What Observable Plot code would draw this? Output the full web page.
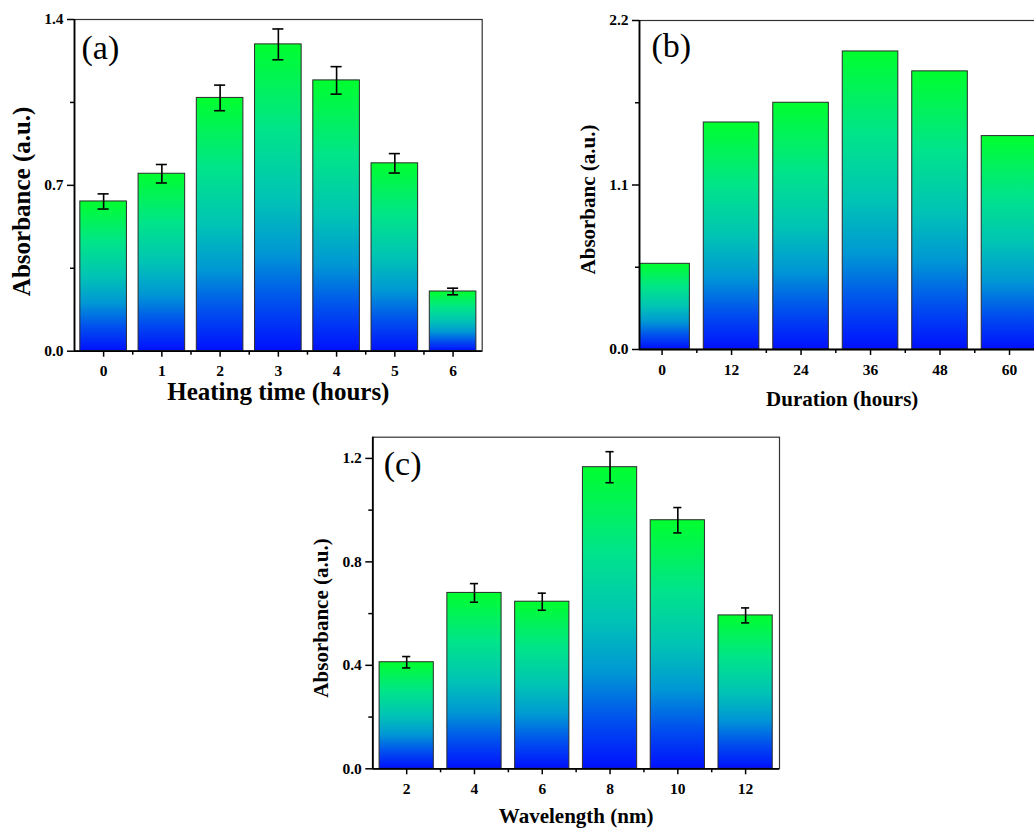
<!DOCTYPE html>
<html><head><meta charset="utf-8">
<script src="https://cdn.jsdelivr.net/npm/d3@7"></script>
<script src="https://cdn.jsdelivr.net/npm/@observablehq/plot@0.6"></script>
<style>
html,body{margin:0;padding:0;background:#fff;width:1034px;height:828px;overflow:hidden;position:relative}
.panel{position:absolute}
.panel svg{overflow:visible;max-width:none !important}
</style></head><body>
<div id="a" class="panel" style="left:0;top:0"></div>
<div id="b" class="panel" style="left:560px;top:0;width:520px"></div>
<div id="c" class="panel" style="left:300px;top:420px"></div>
<script>
// ---- data ----
const heatingTime = [0, 1, 2, 3, 4, 5, 6];
const absorbanceA = [0.632, 0.749, 1.069, 1.295, 1.143, 0.793, 0.252];
const errorA = [0.032, 0.039, 0.054, 0.065, 0.058, 0.041, 0.014];

const duration = [0, 12, 24, 36, 48, 60];
const absorbanceB = [0.573, 1.518, 1.650, 1.993, 1.860, 1.427];

const wavelength = [2, 4, 6, 8, 10, 12];
const absorbanceC = [0.412, 0.680, 0.646, 1.166, 0.961, 0.593];
const errorC = [0.022, 0.036, 0.033, 0.060, 0.049, 0.029];

const yTicksA = [0, 0.7, 1.4], yMinorA = [0.35, 1.05];
const xMinorA = [0.5, 1.5, 2.5, 3.5, 4.5, 5.5];
const yTicksB = [0, 1.1, 2.2], yMinorB = [0.55, 1.65];
const xMinorB = [6, 18, 30, 42, 54, 66];
const yTicksC = [0, 0.4, 0.8, 1.2], yMinorC = [0.2, 0.6, 1.0];
const xMinorC = [3, 5, 7, 9, 11];

const serif = "'Liberation Serif', 'Times New Roman', serif";

function gradient(id) {
  return () => {
    const defs = d3.create("svg:defs");
    const g = defs.append("linearGradient").attr("id", id)
      .attr("x1", 0).attr("y1", 0).attr("x2", 0).attr("y2", 1);
    [[0, "#00ff2e"], [0.28, "#00e48a"], [0.5, "#00c4b4"], [0.68, "#0098d4"], [0.84, "#0050ee"], [1, "#0010ff"]]
      .forEach(([o, c]) => g.append("stop").attr("offset", o).attr("stop-color", c));
    return defs.node();
  };
}

function panel(cfg) {
  const rows = cfg.x.map((x, i) => ({x, y: cfg.y[i], e: cfg.err ? cfg.err[i] : 0}));
  const marks = [
    gradient(cfg.gid),
    Plot.rectY(rows, {x1: d => d.x - cfg.half, x2: d => d.x + cfg.half, y1: 0, y2: "y",
      fill: `url(#${cfg.gid})`, stroke: "#2a2a2a", strokeWidth: 1, clip: true})
  ];
  if (cfg.err) {
    marks.push(
      Plot.ruleX(rows, {x: "x", y1: d => d.y - d.e, y2: d => d.y + d.e, stroke: "#000", strokeWidth: 1.6}),
      Plot.ruleY(rows, {y: d => d.y + d.e, x1: d => d.x - cfg.cap, x2: d => d.x + cfg.cap, stroke: "#000", strokeWidth: 1.6}),
      Plot.ruleY(rows, {y: d => d.y - d.e, x1: d => d.x - cfg.cap, x2: d => d.x + cfg.cap, stroke: "#000", strokeWidth: 1.6})
    );
  }
  marks.push(
    Plot.frame({stroke: "#333", strokeWidth: 1.2}),
    Plot.ruleY([cfg.yDomain[0]], {stroke: "#000", strokeWidth: 1.8}),
    Plot.ruleX([cfg.xDomain[0]], {stroke: "#000", strokeWidth: 1.8}),
    Plot.axisY({ticks: cfg.yTicks, tickSize: 7, tickPadding: 4, tickFormat: d3.format(".1f"),
      strokeWidth: 1.5, fontSize: 15.5, fontWeight: "bold", label: null}),
    Plot.axisY({ticks: cfg.yMinor, tickSize: 4, tickFormat: () => "", strokeWidth: 1.5, label: null}),
    Plot.axisX({ticks: cfg.x, tickSize: 6, tickPadding: 8, tickFormat: d => String(d),
      strokeWidth: 1.5, fontSize: 15.5, fontWeight: "bold", label: null}),
    Plot.axisX({ticks: cfg.xMinor, tickSize: 4, tickFormat: () => "", strokeWidth: 1.5, label: null}),
    Plot.text([cfg.yLabel], {text: d => d, frameAnchor: "left", rotate: -90, dx: cfg.yLabelDx, dy: cfg.yLabelDy,
      fontSize: cfg.yLabelSize, fontWeight: "bold", lineAnchor: "middle", textAnchor: "middle"}),
    Plot.text([cfg.xLabel], {text: d => d, frameAnchor: cfg.xLabelAnchor || "bottom", dx: cfg.xLabelDx || 0, dy: cfg.xLabelDy,
      fontSize: cfg.xLabelSize, fontWeight: "bold", lineAnchor: "middle", textAnchor: "middle"}),
    Plot.text([cfg.tag], {text: d => d, frameAnchor: "top-left", dx: cfg.tagDx, dy: cfg.tagDy,
      fontSize: 34, fontWeight: "normal", lineAnchor: "bottom", textAnchor: "start"})
  );
  const chart = Plot.plot({
    width: cfg.width, height: cfg.height,
    marginLeft: cfg.ml, marginRight: cfg.mr, marginTop: cfg.mt, marginBottom: cfg.mb,
    x: {type: "linear", domain: cfg.xDomain, label: null},
    y: {type: "linear", domain: cfg.yDomain, label: null},
    style: {fontFamily: serif, fontSize: "15px", color: "#000", background: "transparent", overflow: "visible", maxWidth: "none"},
    marks
  });
  document.getElementById(cfg.id).appendChild(chart);
}

panel({id: "a", gid: "gradA", x: heatingTime, y: absorbanceA, err: errorA,
  xDomain: [-0.5, 6.5], yDomain: [0, 1.4], half: 0.4, cap: 0.095,
  yTicks: yTicksA, yMinor: yMinorA, xMinor: xMinorA,
  width: 490, height: 410, ml: 74, mr: 8.3, mt: 19, mb: 59.3,
  yLabel: "Absorbance (a.u.)", yLabelSize: 25, yLabelDx: -52.5, yLabelDy: 16,
  xLabel: "Heating time (hours)", xLabelSize: 25, xLabelDy: 41,
  tag: "(a)", tagDx: 7, tagDy: 39});

panel({id: "b", gid: "gradB", x: duration, y: absorbanceB, err: null,
  xDomain: [-3.9, 70.1], yDomain: [0, 2.2], half: 4.8, cap: 0,
  yTicks: yTicksB, yMinor: yMinorB, xMinor: xMinorB,
  width: 517.5, height: 410, ml: 79, mr: 10, mt: 20, mb: 61,
  yLabel: "Absorbanc (a.u.)", yLabelSize: 21, yLabelDx: -51, yLabelDy: 14.5,
  xLabel: "Duration (hours)", xLabelSize: 21, xLabelAnchor: "bottom-left", xLabelDx: 202.7, xLabelDy: 50,
  tag: "(b)", tagDx: 12, tagDy: 36.5});

panel({id: "c", gid: "gradC", x: wavelength, y: absorbanceC, err: errorC,
  xDomain: [1, 13], yDomain: [0, 1.282], half: 0.8, cap: 0.12,
  yTicks: yTicksC, yMinor: yMinorC, xMinor: xMinorC,
  width: 489, height: 408, ml: 72.3, mr: 10, mt: 16.7, mb: 59.7,
  yLabel: "Absorbance (a.u.)", yLabelSize: 21, yLabelDx: -52, yLabelDy: 15,
  xLabel: "Wavelength (nm)", xLabelSize: 21, xLabelDy: 47,
  tag: "(c)", tagDx: 11, tagDy: 38});
</script>
</body></html>
